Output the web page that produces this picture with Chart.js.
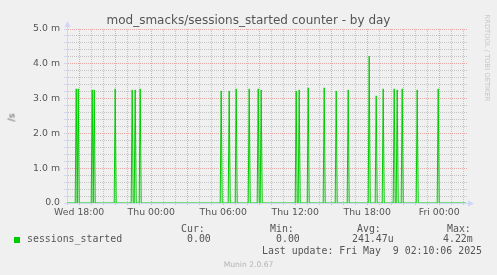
<!DOCTYPE html>
<html>
<head>
<meta charset="utf-8">
<script src="https://cdn.jsdelivr.net/npm/chart.js@4.4.1/dist/chart.umd.min.js"></script>
<style>
  html, body { margin: 0; padding: 0; background: #F0F0F0; }
  #wrap { position: relative; width: 497px; height: 275px; overflow: hidden; }
  #c { position: absolute; left: 0; top: 0; }
  .t { position: absolute; white-space: pre; color: #555; font-family: 'DejaVu Sans'; line-height: 1; }
  .mono { font-family: 'DejaVu Sans Mono'; font-size: 9.9px; }
</style>
</head>
<body>
<div id="wrap">
  <canvas id="c" width="497" height="275"></canvas>
  <div class="t" style="left:0;width:497px;text-align:center;top:14px;font-size:12px;">mod_smacks/sessions_started counter - by day</div>
  <div class="t" style="left:-39px;top:113px;width:100px;height:9px;line-height:9px;text-align:center;font-size:9.33px;transform:rotate(-90deg);">/s</div>
  <div class="t" style="left:437px;top:54px;width:100px;height:8px;line-height:8px;text-align:center;font-size:6.75px;color:#c8c8c8;transform:rotate(90deg);">RRDTOOL / TOBI OETIKER</div>

  <div class="t mono" style="left:181px;top:224px;">Cur:</div>
  <div class="t mono" style="left:270px;top:224px;">Min:</div>
  <div class="t mono" style="left:357px;top:224px;">Avg:</div>
  <div class="t mono" style="left:447px;top:224px;">Max:</div>

  <div style="position:absolute;left:14px;top:237px;width:6px;height:6px;background:#00CC00;"></div>
  <div class="t mono" style="left:27px;top:234px;">sessions_started</div>
  <div class="t mono" style="left:187px;top:234px;">0.00</div>
  <div class="t mono" style="left:276px;top:234px;">0.00</div>
  <div class="t mono" style="left:352px;top:234px;">241.47u</div>
  <div class="t mono" style="left:443px;top:234px;">4.22m</div>
  <div class="t mono" style="left:262px;top:246px;">Last update: Fri May  9 02:10:06 2025</div>
  <div class="t" style="left:0;width:497px;text-align:center;top:261px;font-size:7.6px;color:#b4b4b4;">Munin 2.0.67</div>
</div>
<script>
// time axis in hours since Wed 00:00, one sample every 5 minutes
const xMin = 16.983;
const xMax = 50.317;
const xTickHours = [18, 24, 30, 36, 42, 48];
const xTickLabels = ['Wed 18:00', 'Thu 00:00', 'Thu 06:00', 'Thu 12:00', 'Thu 18:00', 'Fri 00:00'];
const yTickLabels = ['0.0', '1.0 m', '2.0 m', '3.0 m', '4.0 m', '5.0 m'];

// sessions_started spikes (per second), everything else is 0
const spikeTimes = [
  'Wed 17:45', 'Wed 17:55', 'Wed 19:05', 'Wed 19:15', 'Wed 21:00', 'Wed 22:25', 'Wed 22:40',
  'Wed 23:05', 'Thu 05:50', 'Thu 06:30', 'Thu 07:05', 'Thu 08:10', 'Thu 08:55', 'Thu 09:10',
  'Thu 12:05', 'Thu 12:20', 'Thu 13:05', 'Thu 14:25', 'Thu 15:25', 'Thu 16:25', 'Thu 18:10',
  'Thu 18:45', 'Thu 19:20', 'Thu 20:15', 'Thu 20:30', 'Thu 20:55', 'Thu 22:10', 'Thu 23:55'
];
const spikeValues = [
  0.00328, 0.00328, 0.00325, 0.00325, 0.00328, 0.00325, 0.00325,
  0.00328, 0.00322, 0.00322, 0.00328, 0.00328, 0.00328, 0.00325,
  0.00322, 0.00325, 0.00331, 0.00331, 0.00322, 0.00325, 0.00422,
  0.00308, 0.00328, 0.00328, 0.00325, 0.00328, 0.00325, 0.00328
];

const GREEN = '#00CC00';
const MINOR = 'rgba(143,143,143,0.45)';
const MAJOR = 'rgba(222,79,79,0.45)';
const AXIS = '#CFD6F8';
const STEP = 5 / 60;

function toHours(s) {
  const day = { Wed: 0, Thu: 24, Fri: 48 }[s.slice(0, 3)];
  const hm = s.slice(4).split(':');
  return day + (+hm[0]) + (+hm[1]) / 60;
}

const points = [{ x: xMin, y: 0 }];
spikeTimes.forEach((s, i) => {
  const h = toHours(s);
  points.push({ x: h - STEP, y: 0 }, { x: h, y: spikeValues[i] }, { x: h + STEP, y: 0 });
});
points.push({ x: 50.2, y: 0 });

const arrows = {
  id: 'arrows',
  afterDraw(chart) {
    const ctx = chart.ctx;
    const a = chart.chartArea;
    ctx.save();
    ctx.strokeStyle = AXIS;
    ctx.fillStyle = AXIS;
    ctx.lineWidth = 1;
    ctx.beginPath();
    ctx.moveTo(a.left + 0.5, a.top);
    ctx.lineTo(a.left + 0.5, a.top - 5);
    ctx.moveTo(a.right, a.bottom + 0.5);
    ctx.lineTo(a.right + 2, a.bottom + 0.5);
    ctx.stroke();
    ctx.beginPath();
    ctx.moveTo(a.left - 2.5, a.top - 2);
    ctx.lineTo(a.left + 3.5, a.top - 2);
    ctx.lineTo(a.left + 0.5, a.top - 8);
    ctx.closePath();
    ctx.fill();
    ctx.beginPath();
    ctx.moveTo(a.right + 1, a.bottom - 2.5);
    ctx.lineTo(a.right + 1, a.bottom + 3.5);
    ctx.lineTo(a.right + 7, a.bottom + 0.5);
    ctx.closePath();
    ctx.fill();
    ctx.restore();
  }
};

const tickFont = { family: 'DejaVu Sans', size: 9.33 };

new Chart(document.getElementById('c'), {
  type: 'line',
  data: {
    datasets: [{
      label: 'sessions_started',
      data: points,
      borderColor: GREEN,
      borderWidth: 1,
      pointRadius: 0,
      fill: false,
      tension: 0
    }]
  },
  options: {
    responsive: false,
    animation: false,
    events: [],
    layout: { padding: { left: 0, top: 29, right: 30, bottom: 0 } },
    plugins: { legend: { display: false }, title: { display: false }, tooltip: { enabled: false } },
    scales: {
      x: {
        type: 'linear',
        min: xMin,
        max: xMax,
        afterBuildTicks: (scale) => {
          scale.ticks = [];
          for (let h = Math.ceil(xMin); h <= xMax; h++) scale.ticks.push({ value: h });
        },
        afterFit: (scale) => { scale.height = 72; },
        ticks: {
          autoSkip: false,
          maxRotation: 0,
          minRotation: 0,
          padding: 2,
          color: '#555',
          font: tickFont,
          callback: (v) => {
            const k = xTickHours.indexOf(v);
            return k >= 0 ? xTickLabels[k] : '';
          }
        },
        grid: {
          color: (ctx) => (ctx.tick && ctx.tick.value % 3 === 0) ? MAJOR : MINOR,
          tickLength: 2,
          lineWidth: 1
        },
        border: { display: true, color: AXIS, dash: [1, 1] }
      },
      y: {
        type: 'linear',
        min: 0,
        max: 0.005,
        afterBuildTicks: (scale) => {
          scale.ticks = [];
          for (let i = 0; i <= 25; i++) scale.ticks.push({ value: i / 5000 });
        },
        afterFit: (scale) => { scale.width = 67; },
        ticks: {
          autoSkip: false,
          padding: 4,
          color: '#555',
          font: tickFont,
          callback: (v, i) => (i % 5 === 0 ? yTickLabels[i / 5] : '')
        },
        grid: {
          color: (ctx) => (ctx.index % 5 === 0) ? MAJOR : MINOR,
          tickColor: AXIS,
          tickLength: 3,
          lineWidth: 1
        },
        border: { display: true, color: AXIS, dash: [1, 1] }
      }
    }
  },
  plugins: [arrows]
});
</script>
</body>
</html>
